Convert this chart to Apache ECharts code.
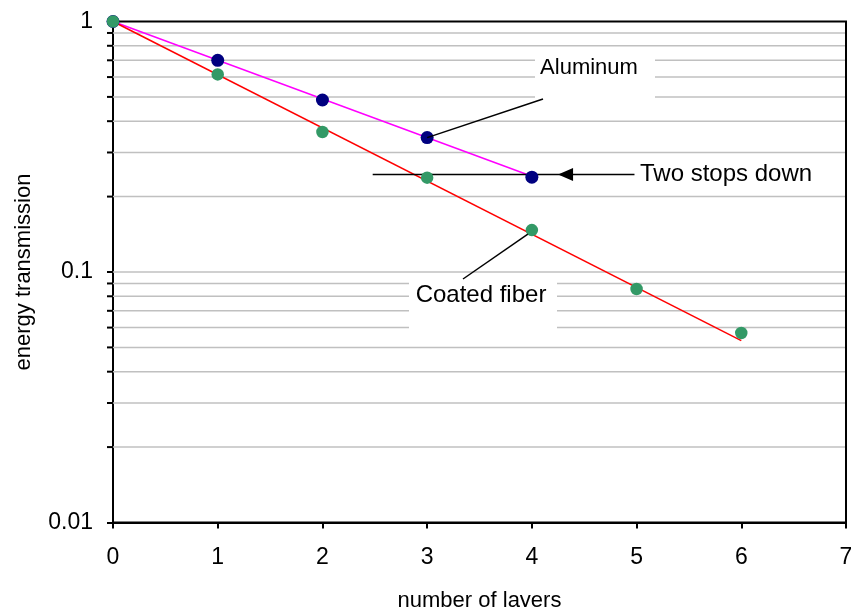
<!DOCTYPE html>
<html>
<head>
<meta charset="utf-8">
<script src="https://cdn.jsdelivr.net/npm/echarts@6/dist/echarts.min.js"></script>
<style>
html,body{margin:0;padding:0;background:#fff;overflow:hidden;}
#c{width:851px;height:607px;}
</style>
</head>
<body>
<div id="c"></div>
<script>
// ---- data ----
const layers = [0, 1, 2, 3, 4, 5, 6];
const aluminum = [1, 0.70, 0.486, 0.344, 0.239];
const coatedFiber = [1, 0.615, 0.362, 0.238, 0.147, 0.0855, 0.0571];
const aluminumTrendX = [0, 4];
const aluminumTrendY = [1.0, 0.241];
const fiberTrendX = [0, 6];
const fiberTrendY = [1.0, 0.0532];
const gridValues = [0.02,0.03,0.04,0.05,0.06,0.07,0.08,0.09,0.1,0.2,0.3,0.4,0.5,0.6,0.7,0.8,0.9];
const xTicks = [0, 7];      // axis min, max
const yRange = [0.01, 1];
const twoStopsLevel = 0.245;
const twoStopsX = [2.48, 4.98];
const arrowTipX = 4.25;
const annotationTexts = ['Aluminum', 'Two stops down', 'Coated fiber'];

const FONT = "'Liberation Sans', Arial, sans-serif";
const FS = 23;

const chart = echarts.init(document.getElementById('c'), null, {renderer: 'canvas'});

const option = {
  animation: false,
  backgroundColor: '#fff',
  grid: {left: 113, right: 5, top: 21.5, bottom: 84.5, show: true, borderColor: '#000', borderWidth: 2,
         containLabel: false, outerBoundsMode: 'none'},
  xAxis: {
    type: 'value', min: xTicks[0], max: xTicks[1], interval: 1,
    name: 'number of layers', nameLocation: 'middle', nameGap: 67,
    nameTextStyle: {fontFamily: FONT, fontSize: 22, color: '#000'},
    axisLine: {show: true, lineStyle: {color: '#000', width: 2}},
    axisTick: {show: true, inside: false, length: 6, lineStyle: {color: '#000', width: 2}},
    axisLabel: {fontFamily: FONT, fontSize: FS, color: '#000', margin: 24},
    splitLine: {show: false}
  },
  yAxis: {
    type: 'log', logBase: 10, min: yRange[0], max: yRange[1],
    name: 'energy transmission', nameLocation: 'middle', nameGap: 78,
    nameTextStyle: {fontFamily: FONT, fontSize: 22, color: '#000'},
    axisLine: {show: true, lineStyle: {color: '#000', width: 2}},
    axisTick: {show: true, inside: false, length: 6, lineStyle: {color: '#000', width: 2}},
    axisLabel: {fontFamily: FONT, fontSize: FS, color: '#000', margin: 20,
      formatter: v => String(+v.toPrecision(3))},
    splitLine: {show: false},
    minorTick: {show: false}, minorSplitLine: {show: false}
  },
  series: [
    {
      type: 'custom', z: 1, silent: true, clip: false,
      data: gridValues.map(v => [xTicks[0], v]),
      encode: {x: 0, y: 1},
      renderItem: (params, api) => {
        const v = api.value(1);
        const p0 = api.coord([xTicks[0], v]);
        const p1 = api.coord([xTicks[1], v]);
        return {type: 'group', children: [
          {type: 'line', shape: {x1: p0[0], y1: p0[1], x2: p1[0] - 1, y2: p1[1]}, style: {stroke: '#c0c0c0', lineWidth: 1.5}},
          {type: 'line', shape: {x1: p0[0] - 6, y1: p0[1], x2: p0[0], y2: p0[1]}, style: {stroke: '#000', lineWidth: 2}}
        ]};
      }
    },
    {
      name: 'Aluminum trend', type: 'line', z: 3, symbol: 'none', silent: true,
      data: aluminumTrendX.map((x, i) => [x, aluminumTrendY[i]]),
      lineStyle: {color: '#ff00ff', width: 1.5}
    },
    {
      name: 'Coated fiber trend', type: 'line', z: 3, symbol: 'none', silent: true,
      data: fiberTrendX.map((x, i) => [x, fiberTrendY[i]]),
      lineStyle: {color: '#ff0000', width: 1.5}
    },
    {
      name: 'Aluminum', type: 'scatter', z: 5, symbol: 'circle', symbolSize: 13,
      data: aluminum.map((v, i) => [layers[i], v]),
      itemStyle: {color: '#000080', opacity: 1}
    },
    {
      name: 'Coated fiber', type: 'scatter', z: 6, symbol: 'circle', symbolSize: 12.5,
      data: coatedFiber.map((v, i) => [layers[i], v]),
      itemStyle: {color: '#339966', opacity: 1}
    }
  ]
};
chart.setOption(option);

const px = (x, y) => chart.convertToPixel({gridIndex: 0}, [x, y]);
const pAl = px(layers[3], aluminum[3]);
const pCf = px(layers[4], coatedFiber[4]);
const tsA = px(twoStopsX[0], twoStopsLevel);
const tsB = px(twoStopsX[1], twoStopsLevel);
const tip = px(arrowTipX, twoStopsLevel);

chart.setOption({
  graphic: [
    // white label boxes
    {type: 'rect', z: 4, shape: {x: 535, y: 50, width: 120, height: 65}, style: {fill: '#fff'}},
    {type: 'rect', z: 4, shape: {x: 409, y: 277, width: 148, height: 64}, style: {fill: '#fff'}},
    // Aluminum
    {type: 'text', z: 7, style: {text: annotationTexts[0], x: 589, y: 68, align: 'center', verticalAlign: 'middle', font: '22px ' + FONT, fill: '#000'}},
    {type: 'line', z: 7, shape: {x1: 543, y1: 99, x2: pAl[0], y2: pAl[1]}, style: {stroke: '#000', lineWidth: 1.5}},
    // Two stops down
    {type: 'line', z: 4, shape: {x1: tsA[0], y1: tsA[1], x2: tsB[0], y2: tsB[1]}, style: {stroke: '#000', lineWidth: 1.5}},
    {type: 'polygon', z: 4, shape: {points: [[tip[0], tip[1]], [tip[0] + 15, tip[1] - 6.5], [tip[0] + 15, tip[1] + 6.5]]}, style: {fill: '#000'}},
    {type: 'text', z: 7, style: {text: annotationTexts[1], x: 640, y: tsA[1], align: 'left', verticalAlign: 'middle', font: '24px ' + FONT, fill: '#000'}},
    // Coated fiber
    {type: 'text', z: 7, style: {text: annotationTexts[2], x: 481, y: 295, align: 'center', verticalAlign: 'middle', font: '24px ' + FONT, fill: '#000'}},
    {type: 'line', z: 7, shape: {x1: 463, y1: 279, x2: pCf[0] - 4, y2: pCf[1] + 4}, style: {stroke: '#000', lineWidth: 1.5}}
  ]
});
</script>
</body>
</html>
